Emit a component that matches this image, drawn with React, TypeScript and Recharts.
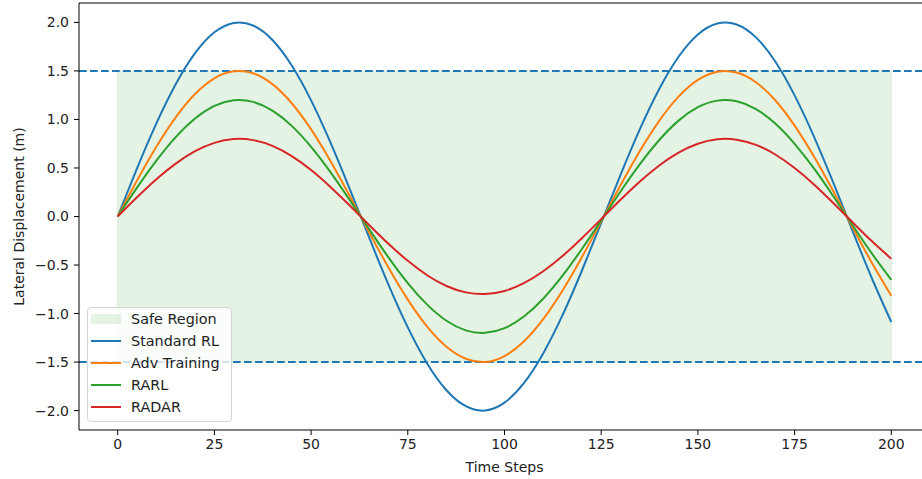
import React from 'react';
import {
  LineChart,
  Line,
  XAxis,
  YAxis,
  ReferenceArea,
  ReferenceLine,
  Legend
} from 'recharts';

// time steps sampled every 5 steps
const timeSteps = [
  0, 5, 10, 15, 20, 25, 30, 35, 40, 45, 50, 55, 60, 65, 70, 75, 80, 85, 90, 95, 100,
  105, 110, 115, 120, 125, 130, 135, 140, 145, 150, 155, 160, 165, 170, 175, 180, 185, 190, 195, 200
];

const standardRL = [
  0, 0.495, 0.959, 1.363, 1.683, 1.898, 1.995, 1.968, 1.819, 1.556, 1.197, 0.763, 0.282, -0.216, -0.702,
  -1.143, -1.514, -1.790, -1.955, -1.999, -1.918, -1.718, -1.411, -1.017, -0.559, -0.066, 0.430, 0.900,
  1.314, 1.646, 1.876, 1.989, 1.979, 1.846, 1.597, 1.248, 0.824, 0.349, -0.150, -0.639, -1.088
];

const advTraining = [
  0, 0.371, 0.719, 1.022, 1.262, 1.424, 1.496, 1.476, 1.364, 1.167, 0.898, 0.573, 0.212, -0.162, -0.526,
  -0.857, -1.135, -1.343, -1.466, -1.499, -1.438, -1.288, -1.058, -0.762, -0.419, -0.050, 0.323, 0.675,
  0.986, 1.235, 1.407, 1.492, 1.484, 1.384, 1.198, 0.936, 0.618, 0.261, -0.113, -0.479, -0.816
];

const rarl = [
  0, 0.297, 0.575, 0.818, 1.010, 1.139, 1.197, 1.181, 1.091, 0.934, 0.718, 0.458, 0.169, -0.130, -0.421,
  -0.686, -0.908, -1.074, -1.173, -1.199, -1.151, -1.031, -0.847, -0.610, -0.335, -0.040, 0.258, 0.540,
  0.788, 0.988, 1.126, 1.194, 1.187, 1.107, 0.958, 0.749, 0.495, 0.209, -0.090, -0.383, -0.653
];

const radar = [
  0, 0.198, 0.384, 0.545, 0.673, 0.759, 0.798, 0.787, 0.727, 0.622, 0.479, 0.305, 0.113, -0.087, -0.281,
  -0.457, -0.605, -0.716, -0.782, -0.799, -0.767, -0.687, -0.564, -0.407, -0.224, -0.027, 0.172, 0.360,
  0.526, 0.658, 0.750, 0.796, 0.792, 0.738, 0.639, 0.499, 0.330, 0.139, -0.060, -0.256, -0.435
];

const safeBound = 1.5;
const safeStart = 0;
const safeEnd = 200;

const xTicks = [0, 25, 50, 75, 100, 125, 150, 175, 200];
const yTicks = [-2, -1.5, -1, -0.5, 0, 0.5, 1, 1.5, 2];

const data = timeSteps.map((t, i) => ({
  t,
  standard: standardRL[i],
  adv: advTraining[i],
  rarl: rarl[i],
  radar: radar[i],
}));

const FONT = '"DejaVu Sans", sans-serif';
const TEXT = '#222';

const legendItems = [
  { name: 'Safe Region', color: '#2ca02c', patch: true },
  { name: 'Standard RL', color: '#1f77b4' },
  { name: 'Adv Training', color: '#ff7f0e' },
  { name: 'RARL', color: '#2ca02c' },
  { name: 'RADAR', color: '#d62728' },
];

const LegendBox = () => (
  <div
    style={{
      width: 140,
      border: '1px solid #d6d6d6',
      borderRadius: 4,
      background: 'rgba(255,255,255,0.8)',
      padding: '0 0 3px 3px',
      fontFamily: FONT,
      fontSize: 14.4,
      color: TEXT,
    }}
  >
    {legendItems.map((it) => (
      <div key={it.name} style={{ display: 'flex', alignItems: 'center', height: 22 }}>
        {it.patch ? (
          <div style={{ width: 30, height: 10, background: it.color, opacity: 0.12 }} />
        ) : (
          <div style={{ width: 30, height: 2, background: it.color }} />
        )}
        <span style={{ marginLeft: 10, whiteSpace: 'nowrap' }}>{it.name}</span>
      </div>
    ))}
  </div>
);

const fmtY = (v: number) => v.toFixed(1).replace('-', '\u2212');

export default function App() {
  return (
    <div style={{ position: 'fixed', left: 0, top: 0, width: 922, height: 479, overflow: 'hidden', background: '#fff' }}>
      <LineChart width={940} height={479} data={data} margin={{ top: 3, right: 10, left: 0, bottom: 0 }}>
        <XAxis
          dataKey="t"
          type="number"
          domain={[-10, 210]}
          ticks={xTicks}
          height={49}
          tickSize={5}
          tickMargin={4}
          axisLine={{ stroke: '#000', strokeWidth: 1 }}
          tickLine={{ stroke: '#000' }}
          tick={{ fill: TEXT, fontSize: 14, fontFamily: FONT }}
          label={({ viewBox }: any) => (
            <text
              x={viewBox.x + viewBox.width / 2}
              y={viewBox.y + 42}
              textAnchor="middle"
              fill={TEXT}
              fontSize={14}
              fontFamily={FONT}
            >
              Time Steps
            </text>
          )}
        />
        <YAxis
          type="number"
          domain={[-2.2, 2.2]}
          ticks={yTicks}
          width={79}
          tickSize={5}
          tickMargin={5}
          tickFormatter={fmtY}
          axisLine={{ stroke: '#000', strokeWidth: 1 }}
          tickLine={{ stroke: '#000' }}
          tick={{ fill: TEXT, fontSize: 14, fontFamily: FONT }}
          label={({ viewBox }: any) => {
            const cx = viewBox.x + 19;
            const cy = viewBox.y + viewBox.height / 2;
            return (
              <text
                x={cx}
                y={cy}
                transform={`rotate(-90 ${cx} ${cy})`}
                textAnchor="middle"
                dominantBaseline="central"
                fill={TEXT}
                fontSize={14}
                fontFamily={FONT}
              >
                Lateral Displacement (m)
              </text>
            );
          }}
        />
        {/* top spine */}
        <ReferenceLine y={2.2} stroke="#000" strokeWidth={1} />
        <ReferenceArea
          x1={safeStart}
          x2={safeEnd}
          y1={-safeBound}
          y2={safeBound}
          fill="#2ca02c"
          fillOpacity={0.12}
          stroke="#2ca02c"
          strokeOpacity={0.12}
        />
        <ReferenceLine y={safeBound} stroke="#1f77b4" strokeWidth={2} strokeDasharray="7.7 3.3" />
        <ReferenceLine y={-safeBound} stroke="#1f77b4" strokeWidth={2} strokeDasharray="7.7 3.3" />
        <Line type="natural" dataKey="standard" name="Standard RL" stroke="#1f77b4" strokeWidth={2} dot={false} isAnimationActive={false} />
        <Line type="natural" dataKey="adv" name="Adv Training" stroke="#ff7f0e" strokeWidth={2} dot={false} isAnimationActive={false} />
        <Line type="natural" dataKey="rarl" name="RARL" stroke="#2ca02c" strokeWidth={2} dot={false} isAnimationActive={false} />
        <Line type="natural" dataKey="radar" name="RADAR" stroke="#d62728" strokeWidth={2} dot={false} isAnimationActive={false} />
        <Legend
          layout="vertical"
          align="center"
          verticalAlign="middle"
          content={<LegendBox />}
          wrapperStyle={{ position: 'absolute', left: 87, top: 307, width: 'auto' }}
        />
      </LineChart>
    </div>
  );
}
